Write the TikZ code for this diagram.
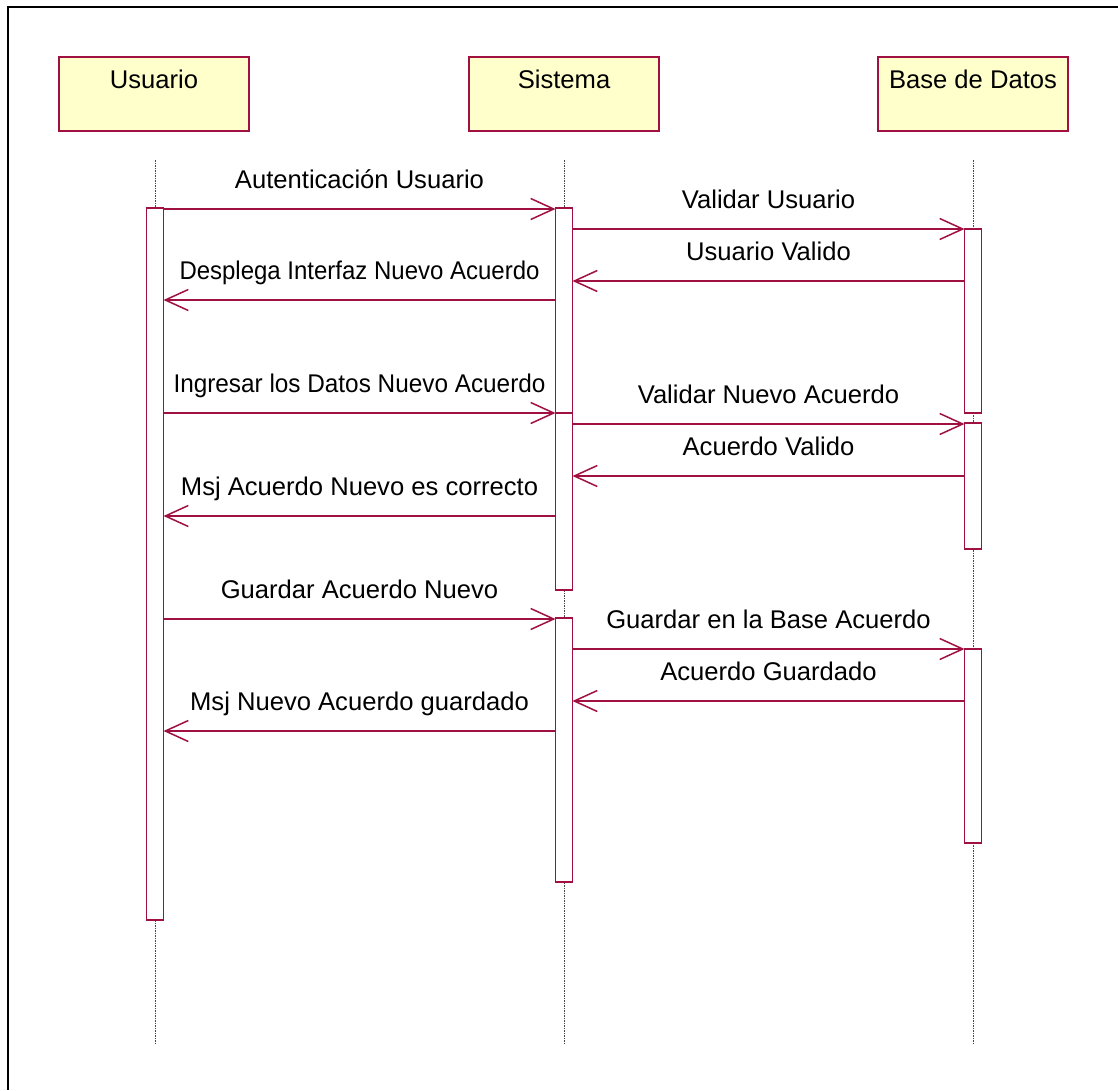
\documentclass[tikz,border=0pt]{standalone}
\usepackage{fontspec}
\setmainfont{Liberation Sans}
\usetikzlibrary{arrows.meta}
\definecolor{rose}{RGB}{160,16,64}
\definecolor{actorfill}{RGB}{255,255,204}
\definecolor{lifegray}{RGB}{70,70,70}
% squeeze a label horizontally to a given width, keeping its height
\newcommand\fitw[2]{\resizebox{#1pt}{\height}{#2}}

\begin{document}
\begin{tikzpicture}[x=1pt,y=-1pt,
  every node/.style={font=\fontsize{25.6}{30}\selectfont, inner sep=0pt, outer sep=0pt},
  objbox/.style={draw=rose, fill=actorfill, line width=1.4pt,
                 minimum width=190pt, minimum height=74pt, anchor=north west},
  actbar/.style={draw=rose, fill=white, line width=1.4pt,
                 minimum width=17pt, anchor=north},
  lifeline/.style={draw=lifegray, line width=1pt, dash pattern=on 1.5pt off 1pt},
  msg/.style={draw=rose, line width=1.5pt,
              -{Straight Barb[length=23pt,width=21pt]}},
  msglabel/.style={anchor=base, yshift=21pt}
]
\useasboundingbox (0,0) rectangle (1118,1090);

% frame
\draw[line width=1.3pt] (8,1090) -- (8,7) -- (1118,7);

% objects
\node[objbox] (usr) at (59,57) {};
\node[objbox] (sys) at (469,57) {};
\node[objbox] (db)  at (878,57) {};
\node[anchor=base] at ([yshift=-31pt]usr.north) {Usuario};
\node[anchor=base] at ([yshift=-31pt]sys.north) {Sistema};
\node[anchor=base] at ([yshift=-31pt]db.north)  {Base de Datos};

% lifelines
\coordinate (usrtop) at (155,160);  \coordinate (usrbot) at (155,1044);
\coordinate (systop) at (564,160);  \coordinate (sysbot) at (564,1044);
\coordinate (dbtop)  at (973,160);  \coordinate (dbbot)  at (973,1044);
\draw[lifeline] (usrtop) -- (usrbot);
\draw[lifeline] (systop) -- (sysbot);
\draw[lifeline] (dbtop) -- (dbbot);

% activation bars
\node[actbar, minimum height=712pt] (ua) at (155,208) {};
\node[actbar, minimum height=382pt] (sa) at (564,208) {};
\node[actbar, minimum height=177pt] (sb) at (564,413) {};
\node[actbar, minimum height=264pt] (sc) at (564,618) {};
\node[actbar, minimum height=184pt] (da) at (973,229) {};
\node[actbar, minimum height=126pt] (dbb) at (973,423) {};
\node[actbar, minimum height=194pt] (dc) at (973,649) {};

% message heights
\coordinate (m1) at (0,209);
\coordinate (m2) at (0,229);
\coordinate (m3) at (0,281);
\coordinate (m4) at (0,300);
\coordinate (m5) at (0,413);
\coordinate (m6) at (0,424);
\coordinate (m7) at (0,476);
\coordinate (m8) at (0,516);
\coordinate (m9) at (0,619);
\coordinate (m10) at (0,649);
\coordinate (m11) at (0,701);
\coordinate (m12) at (0,731);

% messages
\draw[msg] (ua.east |- m1) -- (sa.west |- m1)
  node[midway, msglabel] {Autenticación Usuario};
\draw[msg] (sa.east |- m2) -- (da.west |- m2)
  node[midway, msglabel] {Validar Usuario};
\draw[msg] (da.west |- m3) -- (sa.east |- m3)
  node[midway, msglabel] {Usuario Valido};
\draw[msg] (sa.west |- m4) -- (ua.east |- m4)
  node[midway, msglabel] {\fitw{360}{Desplega Interfaz Nuevo Acuerdo}};
\draw[msg] (ua.east |- m5) -- (sb.west |- m5)
  node[midway, msglabel] {\fitw{372}{Ingresar los Datos Nuevo Acuerdo}};
\draw[msg] (sb.east |- m6) -- (dbb.west |- m6)
  node[midway, msglabel] {Validar Nuevo Acuerdo};
\draw[msg] (dbb.west |- m7) -- (sb.east |- m7)
  node[midway, msglabel] {Acuerdo Valido};
\draw[msg] (sb.west |- m8) -- (ua.east |- m8)
  node[midway, msglabel] {Msj Acuerdo Nuevo es correcto};
\draw[msg] (ua.east |- m9) -- (sc.west |- m9)
  node[midway, msglabel] {Guardar Acuerdo Nuevo};
\draw[msg] (sc.east |- m10) -- (dc.west |- m10)
  node[midway, msglabel] {Guardar en la Base Acuerdo};
\draw[msg] (dc.west |- m11) -- (sc.east |- m11)
  node[midway, msglabel] {Acuerdo Guardado};
\draw[msg] (sc.west |- m12) -- (ua.east |- m12)
  node[midway, msglabel] {Msj Nuevo Acuerdo guardado};
\end{tikzpicture}
\end{document}
